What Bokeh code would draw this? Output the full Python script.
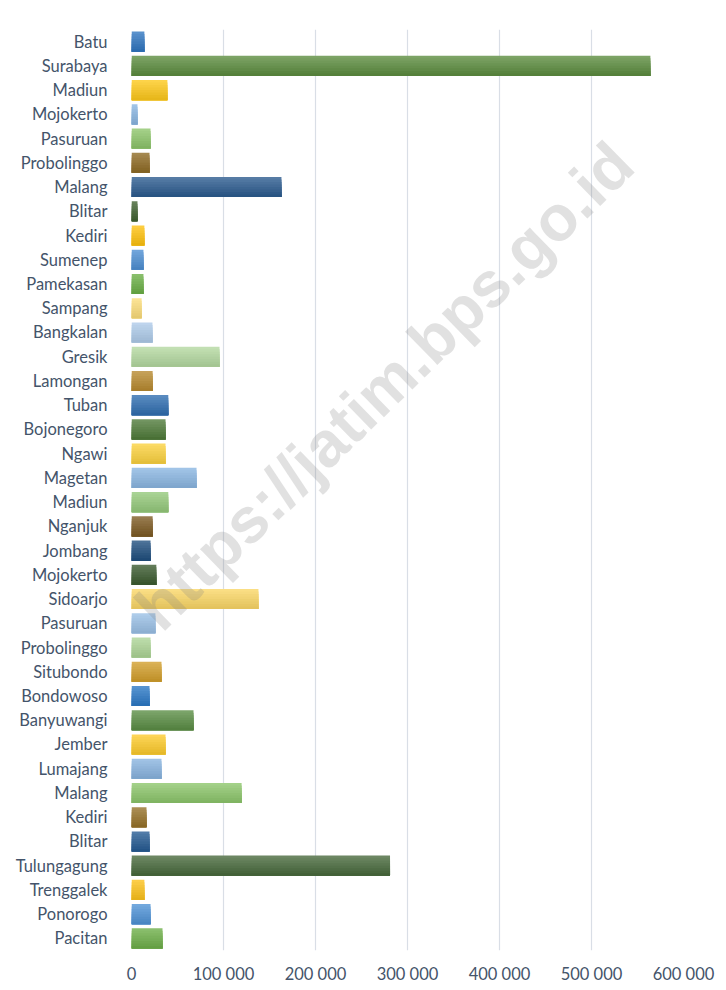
from bokeh.plotting import figure
from bokeh.models import Range1d, FixedTicker, Label, ColumnDataSource
from bokeh.embed import file_html
from bokeh.resources import INLINE

# ---- data (top to bottom as shown) ----
regions = ["Batu", "Surabaya", "Madiun", "Mojokerto", "Pasuruan", "Probolinggo",
           "Malang", "Blitar", "Kediri", "Sumenep", "Pamekasan", "Sampang",
           "Bangkalan", "Gresik", "Lamongan", "Tuban", "Bojonegoro", "Ngawi",
           "Magetan", "Madiun", "Nganjuk", "Jombang", "Mojokerto", "Sidoarjo",
           "Pasuruan", "Probolinggo", "Situbondo", "Bondowoso", "Banyuwangi",
           "Jember", "Lumajang", "Malang", "Kediri", "Blitar", "Tulungagung",
           "Trenggalek", "Ponorogo", "Pacitan"]
values = [14000, 564000, 39000, 6500, 20700, 19600,
          163000, 6500, 14000, 13000, 13000, 11000,
          22800, 95700, 23000, 40000, 37000, 37000,
          70700, 40000, 23000, 20700, 27000, 138000,
          26000, 20700, 32600, 19600, 67400,
          37000, 32600, 119700, 16300, 19600, 281000,
          14000, 20700, 33700]
x_ticks = [0, 100000, 200000, 300000, 400000, 500000, 600000]
x_tick_labels = ["0", "100 000", "200 000", "300 000", "400 000", "500 000", "600 000"]

# ---- styles ----
bar_colors = ["#2E75C0", "#5B8C3E", "#FFC91A", "#8AB6E2", "#8DC56A", "#8E6A23",
              "#2A5A8E", "#3F6130", "#FFC20E", "#4D8FD3", "#6AAF45", "#FCDD7A",
              "#AECBEA", "#B4D9A0", "#B8892E", "#2E6DB0", "#4E7A38", "#FCD23E",
              "#8AB6E2", "#94C97A", "#7D5A22", "#1E4E7E", "#3A5A2E", "#FBD765",
              "#9AC0E6", "#ADD596", "#D29E2A", "#2A78C6", "#5A8D44",
              "#FECB2B", "#88B4E0", "#8CC66A", "#967128", "#245A92", "#46683A",
              "#FDC21A", "#4E92D6", "#6DAF48"]
TEXT = "#44546A"
GRID = "#D9DEE6"
FONT = "Lato"


def hex2rgb(h):
    h = h.lstrip("#")
    return tuple(int(h[i:i + 2], 16) for i in (0, 2, 4))


def rgb2hex(c):
    return "#%02x%02x%02x" % tuple(max(0, min(255, int(round(v)))) for v in c)


def mix(c, target, t):
    return tuple(a + (b - a) * t for a, b in zip(c, target))


n = len(regions)
ypos = [n - 1 - i for i in range(n)]

p = figure(frame_width=552, frame_height=921, output_backend="svg",
           toolbar_location=None,
           x_range=Range1d(0, 600000), y_range=Range1d(-0.5, n - 0.5),
           min_border_left=131, min_border_right=36, min_border_top=29,
           min_border_bottom=34)
p.outline_line_color = None
p.background_fill_color = "white"
p.border_fill_color = "white"

# gradient bars built from overlapping horizontal strips
BAR_H = 0.83
NSTRIP = 8
sh = BAR_H / NSTRIP
ys, rights, cols, hs = [], [], [], []
for yi, v, c in zip(ypos, values, bar_colors):
    base = hex2rgb(c)
    top = mix(base, (255, 255, 255), 0.22)
    bot = mix(base, (0, 0, 0), 0.10)
    for k in range(NSTRIP):
        t = (k + 0.5) / NSTRIP
        col = rgb2hex(mix(top, bot, t))
        top_y = yi + BAR_H / 2 - k * sh
        bottom_y = yi - BAR_H / 2
        ys.append((top_y + bottom_y) / 2)
        hs.append(top_y - bottom_y)
        rights.append(v)
        cols.append(col)
src = ColumnDataSource(dict(y=ys, right=rights, color=cols, h=hs))
p.hbar(y="y", left=0, right="right", height="h", source=src,
       fill_color="color", line_color=None)

# axes
p.xaxis.ticker = FixedTicker(ticks=x_ticks)
p.xaxis.major_label_overrides = {t: l for t, l in zip(x_ticks, x_tick_labels)}
p.yaxis.ticker = FixedTicker(ticks=ypos)
p.yaxis.major_label_overrides = {y: r for y, r in zip(ypos, regions)}
for ax in (p.xaxis, p.yaxis):
    ax.axis_line_color = None
    ax.major_tick_line_color = None
    ax.minor_tick_line_color = None
    ax.major_label_text_font = FONT
    ax.major_label_text_font_size = "16.5px"
    ax.major_label_text_color = TEXT
p.xaxis.major_label_standoff = 7
p.yaxis.major_label_standoff = 18

p.xgrid.grid_line_color = GRID
p.xgrid.grid_line_width = 1.2
p.ygrid.grid_line_color = None

# watermark
wm = Label(x=275000, y=22.8, text="https://jatim.bps.go.id", angle=44.3,
           angle_units="deg", text_align="center", text_baseline="middle",
           text_font="Liberation Sans", text_font_style="bold",
           text_font_size="64px", text_color="#808080", text_alpha=0.24)
p.add_layout(wm)

open("out.html", "w").write(file_html(p, INLINE))
